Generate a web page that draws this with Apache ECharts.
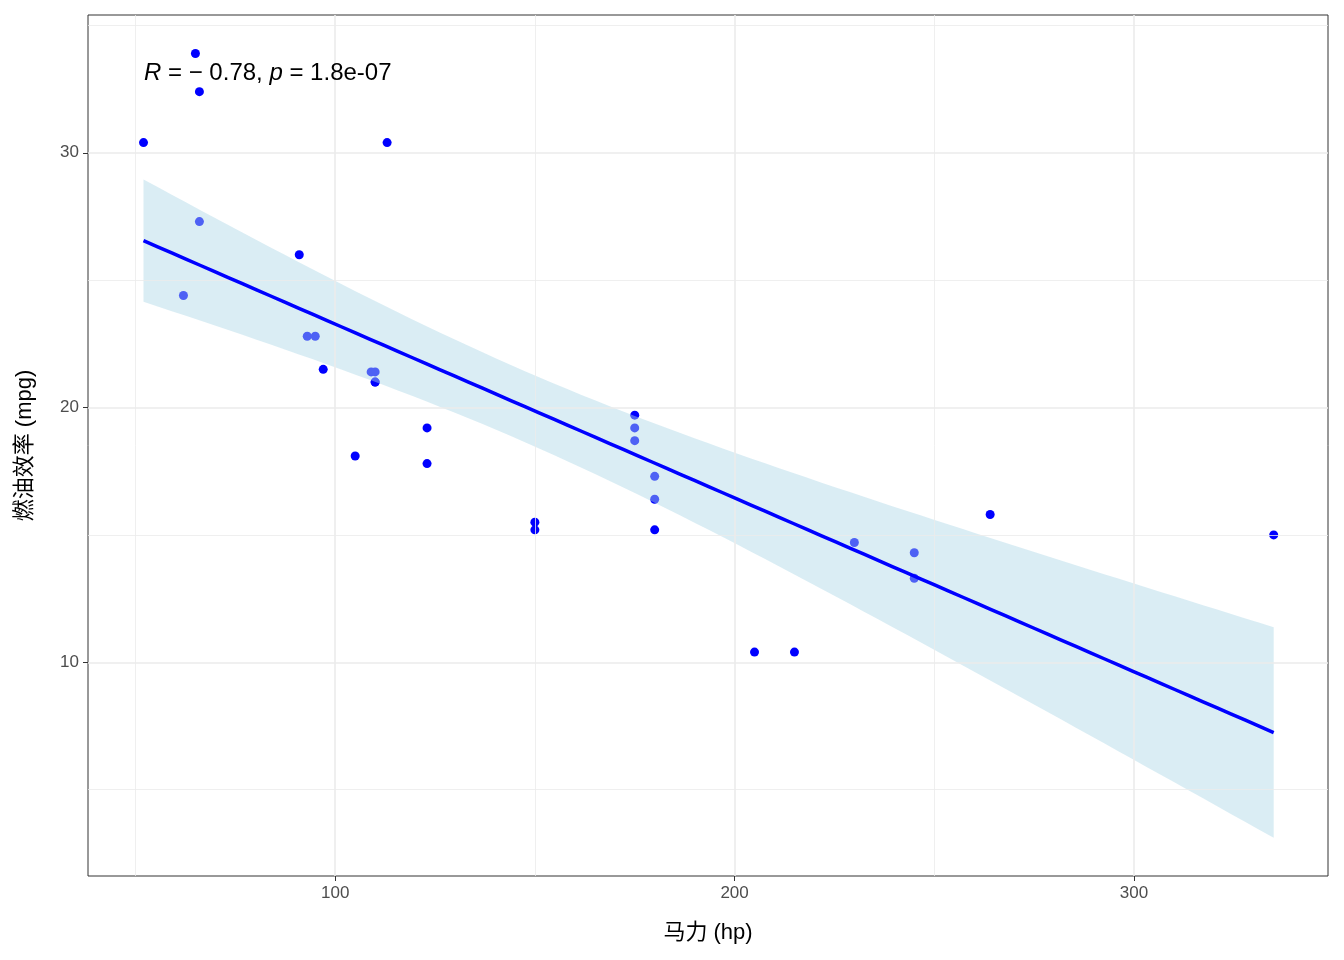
<!DOCTYPE html>
<html><head><meta charset="utf-8">
<script src="https://cdn.jsdelivr.net/npm/echarts@6/dist/echarts.min.js"></script>
<style>html,body{margin:0;padding:0;background:#fff}#c{width:1344px;height:960px}</style>
</head><body><div id="c"></div>
<script>
const hp  = [110,110,93,110,175,105,245,62,95,123,123,180,180,180,205,215,230,66,52,65,97,150,150,245,175,66,91,113,264,175,335,109];
const mpg = [21.0,21.0,22.8,21.4,18.7,18.1,14.3,24.4,22.8,19.2,17.8,16.4,17.3,15.2,10.4,10.4,14.7,32.4,30.4,33.9,21.5,15.5,15.2,13.3,19.2,27.3,26.0,30.4,15.8,19.7,15.0,21.4];
const xTicks = [100,200,300];
const yTicks = [10,20,30];
const xMinor = [50,150,250];
const yMinor = [5,15,25,35];

// linear fit and 95% confidence band (as geom_smooth(method="lm"))
const n = hp.length;
const xb = hp.reduce((a,b)=>a+b)/n, yb = mpg.reduce((a,b)=>a+b)/n;
let sxx=0, sxy=0; hp.forEach((x,i)=>{sxx+=(x-xb)**2; sxy+=(x-xb)*(mpg[i]-yb);});
const b1 = sxy/sxx, b0 = yb-b1*xb;
let sse=0; hp.forEach((x,i)=>{sse+=(mpg[i]-b0-b1*x)**2;});
const s = Math.sqrt(sse/(n-2)), t = 2.042;
const fit=[], band=[];
const xmin=Math.min(...hp), xmax=Math.max(...hp);
for(let k=0;k<=80;k++){const x=xmin+(xmax-xmin)*k/80; const y=b0+b1*x;
  const se=s*Math.sqrt(1/n+(x-xb)**2/sxx);
  fit.push([x,y]); band.push([x,y-t*se,y+t*se]);}

const gridCol='#ebebeb';
const ml = (axis, vals, w) => vals.map(v=>({[axis]:v, lineStyle:{color:gridCol,width:w,type:'solid'}}));

const chart = echarts.init(document.getElementById('c'));
chart.setOption({
  animation:false,
  grid:{left:88,top:15,right:16,bottom:84,show:true,borderColor:'#333',borderWidth:1,backgroundColor:'#fff',z:0},
  xAxis:{type:'value',min:38.1,max:348.6,splitLine:{show:false},axisLine:{show:false},
    axisTick:{show:true,customValues:xTicks,length:5,lineStyle:{color:'#333'}},
    axisLabel:{customValues:xTicks,color:'#4d4d4d',fontSize:17,fontFamily:'Liberation Sans',margin:9},
    name:'马力 (hp)',nameLocation:'middle',nameGap:46,nameTextStyle:{fontSize:22,color:'#000',fontFamily:'Liberation Sans, Noto Sans CJK SC'}},
  yAxis:{type:'value',min:1.61,max:35.41,splitLine:{show:false},axisLine:{show:false},
    axisTick:{show:true,customValues:yTicks,length:5,lineStyle:{color:'#333'}},
    axisLabel:{customValues:yTicks,color:'#4d4d4d',fontSize:17,fontFamily:'Liberation Sans',margin:9},
    name:'燃油效率 (mpg)',nameLocation:'middle',nameGap:52,nameTextStyle:{fontSize:22,color:'#000',fontFamily:'Liberation Sans, Noto Sans CJK SC'}},
  series:[
    {type:'line',data:[],silent:true,markLine:{symbol:'none',silent:true,label:{show:false},
      data:[...ml('xAxis',xMinor,0.8),...ml('yAxis',yMinor,0.8),...ml('xAxis',xTicks,1.6),...ml('yAxis',yTicks,1.6)]}},
    {type:'scatter',data:hp.map((x,i)=>[x,mpg[i]]),symbolSize:9,itemStyle:{color:'#0000ff',opacity:1},z:3},
    {type:'custom',data:band,z:4,silent:true,renderItem:(params,api)=>{
      if(params.dataIndex!==0) return null;
      const up=band.map(d=>api.coord([d[0],d[2]]));
      const dn=band.map(d=>api.coord([d[0],d[1]])).reverse();
      return {type:'polygon',shape:{points:up.concat(dn)},style:{fill:'rgba(173,216,230,0.45)'}};
    }},
    {type:'line',data:fit,symbol:'none',lineStyle:{color:'#0000ff',width:3.5},z:5}
  ],
  graphic:[{type:'text',left:144,top:61,z:10,style:{
    text:'{i|R} = − 0.78, {i|p} = 1.8e-07',fill:'#000',font:'24px Liberation Sans',
    rich:{i:{fontStyle:'italic',fontSize:24,fontFamily:'Liberation Sans'}}}}]
});
</script></body></html>
